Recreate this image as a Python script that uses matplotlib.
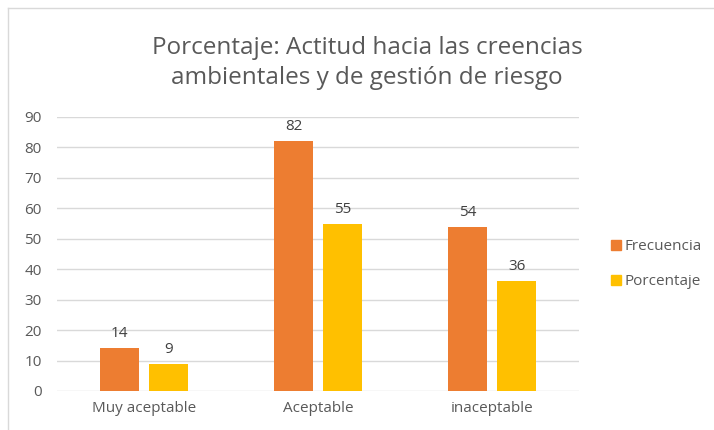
import matplotlib
matplotlib.use("Agg")
import matplotlib.pyplot as plt
import matplotlib.lines as mlines
import numpy as np

categories = ["Muy aceptable", "Aceptable", "inaceptable"]
frecuencia = [14, 82, 54]
porcentaje = [9, 55, 36]
series_names = ["Frecuencia", "Porcentaje"]
y_ticks = [0, 10, 20, 30, 40, 50, 60, 70, 80, 90]
title_text = "Porcentaje: Actitud hacia las creencias\nambientales y de gestión de riesgo"

orange = "#ED7D31"
gold = "#FFC000"
text_col = "#595959"
grid_col = "#D9D9D9"

plt.rcParams['font.family'] = ['Open Sans', 'DejaVu Sans']

fig = plt.figure(figsize=(7.14, 4.3), dpi=100)
ax = fig.add_axes([0.0798, 0.0907, 0.7312, 0.6373])

x = np.arange(len(categories))
width = 0.224
off = 0.141
bars1 = ax.bar(x - off, frecuencia, width, color=orange, zorder=3, label=series_names[0])
bars2 = ax.bar(x + off, porcentaje, width, color=gold, zorder=3, label=series_names[1])

for bars in (bars1, bars2):
    for b in bars:
        ax.annotate(f"{int(b.get_height())}", (b.get_x() + b.get_width() / 2, b.get_height()),
                    xytext=(0, 5), textcoords="offset points", ha="center", va="bottom",
                    fontsize=11, color="#404040")

ax.set_xlim(-0.5, 2.5)
ax.set_ylim(0, 90)
ax.set_yticks(y_ticks)
ax.set_xticks(x)
ax.set_xticklabels(categories)
ax.tick_params(axis="both", length=0, labelsize=11, labelcolor=text_col)
ax.tick_params(axis="y", pad=11)
ax.tick_params(axis="x", pad=7)
ax.grid(axis="y", color=grid_col, linewidth=1, zorder=0)
for s in ax.spines.values():
    s.set_visible(False)

fig.text(0.514, 0.853, title_text, ha="center", va="center", fontsize=17.5,
         color=text_col, linespacing=1.35)

handles = [
    mlines.Line2D([], [], color=orange, marker='s', linestyle='None', markersize=7, label=series_names[0]),
    mlines.Line2D([], [], color=gold, marker='s', linestyle='None', markersize=7, label=series_names[1]),
]
leg = fig.legend(handles=handles, loc="center left", bbox_to_anchor=(0.833, 0.386),
                 frameon=False, fontsize=11, handletextpad=0.05, labelspacing=1.3,
                 handlelength=1.0)
for t in leg.get_texts():
    t.set_color(text_col)

# chart frame (left and top edges visible)
fig.add_artist(mlines.Line2D([8 / 714, 8 / 714], [0, 1 - 8 / 430], transform=fig.transFigure,
                             color=grid_col, linewidth=1))
fig.add_artist(mlines.Line2D([8 / 714, 1], [1 - 8 / 430, 1 - 8 / 430], transform=fig.transFigure,
                             color=grid_col, linewidth=1))

fig.savefig("out.png", dpi=100)
